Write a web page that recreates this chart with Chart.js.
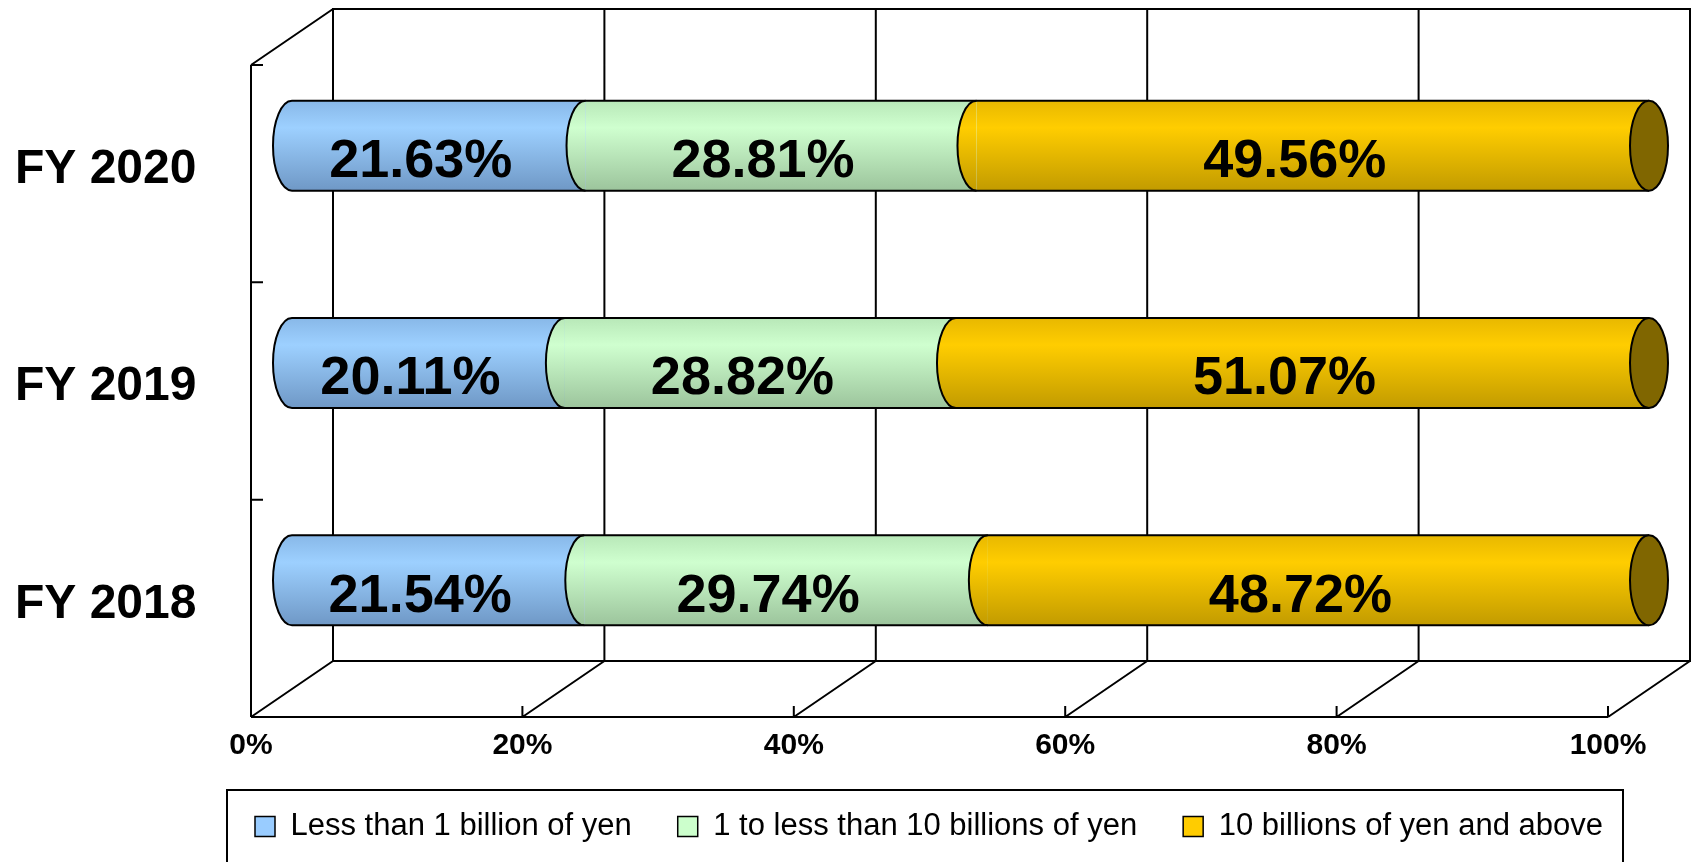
<!DOCTYPE html>
<html>
<head>
<meta charset="utf-8">
<script src="https://cdn.jsdelivr.net/npm/chart.js@4"></script>
<style>
html, body { margin: 0; padding: 0; background: #fff; }
#wrap { width: 1694px; height: 862px; }
</style>
</head>
<body>
<div id="wrap"><canvas id="chart"></canvas></div>
<script>
// data
const years = ["FY 2020", "FY 2019", "FY 2018"];
const seriesNames = ["Less than 1 billion of yen", "1 to less than 10 billions of yen", "10 billions of yen and above"];
const lessThan1 = [21.63, 20.11, 21.54];
const from1To10 = [28.81, 28.82, 29.74];
const over10 = [49.56, 51.07, 48.72];
const xTicks = [0, 20, 40, 60, 80, 100];

const FONT = 'Arial, "Liberation Sans", sans-serif';
const DX = 41, DY = 28;      // half of the 3d depth offset
const RX = 19;               // cylinder cap radius
const BAR_PCT = 0.414;

const palettes = [
	{ base: '#99CCFF', top: '#88B8E8', light: '#9DD0FF', bottom: '#6F98C6', cap: '#4D6680' },
	{ base: '#CCFFCC', top: '#B8E8B8', light: '#CFFFCF', bottom: '#9CC49C', cap: '#668066' },
	{ base: '#FFCC00', top: '#E8B800', light: '#FFCD00', bottom: '#C29B00', cap: '#806600' }
];

function cylinderFill(d) {
	return c => {
		const p = palettes[d];
		const y = c.chart.scales.y;
		if (c.type !== 'data' || !y) return p.base;
		const yc = y.getPixelForValue(c.dataIndex);
		const half = y.height / years.length * BAR_PCT / 2;
		const g = c.chart.ctx.createLinearGradient(0, yc - half, 0, yc + half);
		g.addColorStop(0, p.top);
		g.addColorStop(0.3, p.light);
		g.addColorStop(1, p.bottom);
		return g;
	};
}

const frame3d = {
	id: 'frame3d',
	beforeDatasetsDraw(chart) {
		const { ctx, chartArea: a, scales: { x, y } } = chart;
		const top = a.top, bot = a.bottom;
		const x0 = x.getPixelForValue(0), x1 = x.getPixelForValue(100);
		ctx.save();
		ctx.strokeStyle = '#000';
		ctx.lineWidth = 2;
		ctx.beginPath();
		// back wall + its gridlines
		ctx.rect(x0 + DX, top - DY, x1 - x0, bot - top);
		xTicks.forEach(v => {
			const px = x.getPixelForValue(v) + DX;
			ctx.moveTo(px, top - DY);
			ctx.lineTo(px, bot - DY);
		});
		// floor
		ctx.moveTo(x0 - DX, bot + DY);
		ctx.lineTo(x1 - DX, bot + DY);
		xTicks.forEach(v => {
			const px = x.getPixelForValue(v);
			ctx.moveTo(px - DX, bot + DY);
			ctx.lineTo(px + DX, bot - DY);
			if (v > 0) {
				ctx.moveTo(px - DX, bot + DY);
				ctx.lineTo(px - DX, bot + DY - 11);
			}
		});
		// left wall
		ctx.moveTo(x0 - DX, top + DY);
		ctx.lineTo(x0 - DX, bot + DY);
		ctx.moveTo(x0 - DX, top + DY);
		ctx.lineTo(x0 + DX, top - DY);
		const step = (bot - top) / years.length;
		years.forEach((_, i) => {
			const py = y.getPixelForValue(i) - step / 2 + DY;
			ctx.moveTo(x0 - DX, py);
			ctx.lineTo(x0 - DX + 12, py);
		});
		ctx.stroke();
		ctx.restore();
	}
};

const cylinders = {
	id: 'cylinders',
	afterDatasetsDraw(chart) {
		const ctx = chart.ctx;
		const n = chart.data.datasets.length;
		const parts = [];
		for (let d = 0; d < n; d++) {
			chart.getDatasetMeta(d).data.forEach((el, i) => {
				const p = el.getProps(['x', 'y', 'base', 'height'], true);
				parts.push({
					d, i, fill: el.options.backgroundColor,
					left: Math.min(p.x, p.base), right: Math.max(p.x, p.base),
					y: p.y, ry: p.height / 2,
					value: chart.data.datasets[d].data[i]
				});
			});
		}
		ctx.save();
		ctx.strokeStyle = '#000';
		ctx.lineWidth = 2;
		// left rounded side of every segment
		parts.forEach(s => {
			ctx.beginPath();
			ctx.ellipse(s.left, s.y, RX, s.ry, 0, Math.PI / 2, Math.PI * 1.5);
			ctx.closePath();
			ctx.fillStyle = s.fill;
			ctx.fill();
		});
		parts.forEach(s => {
			ctx.beginPath();
			ctx.moveTo(s.right, s.y + s.ry);
			ctx.lineTo(s.left, s.y + s.ry);
			ctx.ellipse(s.left, s.y, RX, s.ry, 0, Math.PI / 2, Math.PI * 1.5);
			ctx.lineTo(s.right, s.y - s.ry);
			ctx.stroke();
		});
		// end face of the last segment
		parts.filter(s => s.d === n - 1).forEach(s => {
			ctx.beginPath();
			ctx.ellipse(s.right, s.y, RX, s.ry, 0, 0, Math.PI * 2);
			ctx.fillStyle = palettes[s.d].cap;
			ctx.fill();
			ctx.stroke();
		});
		// value labels
		ctx.fillStyle = '#000';
		ctx.font = 'bold 54px ' + FONT;
		ctx.textAlign = 'center';
		ctx.textBaseline = 'alphabetic';
		parts.forEach(s => {
			ctx.fillText(s.value.toFixed(2) + '%', (s.left + s.right) / 2 - 18, s.y + 12 + 0.358 * 54);
		});
		ctx.restore();
	}
};

const legendBox = {
	id: 'legendBox',
	afterDraw(chart) {
		const hb = chart.legend.legendHitBoxes;
		if (!hb || !hb.length) return;
		const last = hb[hb.length - 1];
		const l = hb[0].left - 28, t = hb[0].top - 21;
		const r = last.left + last.width + 20;
		const ctx = chart.ctx;
		ctx.save();
		ctx.strokeStyle = '#000';
		ctx.lineWidth = 2;
		ctx.strokeRect(l, t, r - l, chart.height + 20 - t);
		ctx.restore();
	}
};

Chart.defaults.font.family = FONT;
Chart.defaults.color = '#000';

new Chart(document.getElementById('chart'), {
	type: 'bar',
	data: {
		labels: years,
		datasets: [
			{ label: seriesNames[0], data: lessThan1, backgroundColor: cylinderFill(0) },
			{ label: seriesNames[1], data: from1To10, backgroundColor: cylinderFill(1) },
			{ label: seriesNames[2], data: over10, backgroundColor: cylinderFill(2) }
		]
	},
	options: {
		indexAxis: 'y',
		responsive: true,
		maintainAspectRatio: false,
		animation: false,
		borderWidth: 0,
		barPercentage: BAR_PCT,
		categoryPercentage: 1,
		layout: { padding: { top: 37, left: 15, right: 45, bottom: 10 } },
		scales: {
			x: {
				stacked: true,
				min: 0,
				max: 100,
				afterBuildTicks: s => { s.ticks = xTicks.map(v => ({ value: v })); },
				afterFit: s => { s.height = 76; s.paddingLeft = 0; s.paddingRight = 0; },
				grid: { display: false, drawTicks: false },
				border: { display: false },
				ticks: {
					callback: v => v + '%',
					font: { size: 30, weight: 'bold' },
					labelOffset: -DX,
					padding: 39,
					maxRotation: 0
				}
			},
			y: {
				stacked: true,
				afterFit: s => { s.width = 277; s.paddingTop = 0; s.paddingBottom = 0; },
				grid: { display: false, drawTicks: false },
				border: { display: false },
				ticks: {
					font: { size: 48, weight: 'bold' },
					crossAlign: 'far',
					padding: 0,
					labelOffset: 24
				}
			}
		},
		plugins: {
			tooltip: { enabled: false },
			legend: {
				position: 'bottom',
				align: 'end',
				labels: {
					boxWidth: 20,
					boxHeight: 20,
					padding: 46,
					color: '#000',
					font: { size: 31 },
					generateLabels: () => seriesNames.map((name, i) => ({
						text: name,
						fillStyle: palettes[i].base,
						strokeStyle: '#000',
						lineWidth: 1.5,
						datasetIndex: i,
						hidden: false
					}))
				}
			}
		}
	},
	plugins: [frame3d, cylinders, legendBox]
});
</script>
</body>
</html>
